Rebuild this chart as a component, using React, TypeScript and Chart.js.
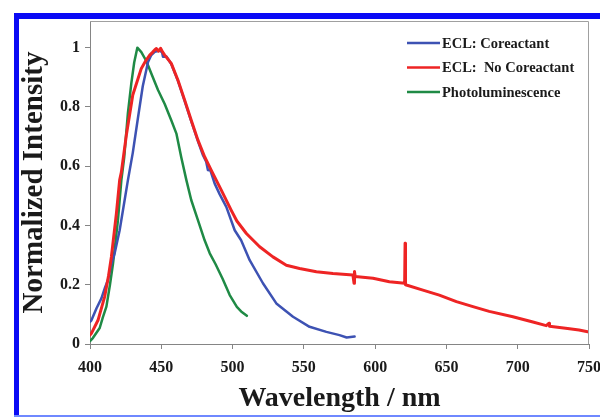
import { useEffect, useRef } from 'react';
import { Chart, registerables } from 'chart.js';

Chart.register(...registerables);

// ---- Data ----
const coreactantWavelength = [400, 401, 404.5, 408, 410.5, 412.6, 415, 417.3, 420.8, 424.3, 426.6, 430, 433.7, 437, 440.7, 443, 445.4, 449, 450.5, 451.2, 453.6, 455, 457, 461.7, 466.4, 471, 475.7, 479, 481.5, 482.7, 484.5, 487.4, 491, 495.6, 501.5, 506, 512, 521.3, 530.7, 542.4, 554, 565.8, 575, 580, 585.6];
const coreactantIntensity = [0.075, 0.08, 0.12, 0.154, 0.19, 0.216, 0.27, 0.306, 0.384, 0.486, 0.553, 0.645, 0.765, 0.87, 0.952, 0.975, 0.986, 0.99, 0.985, 0.969, 0.97, 0.96, 0.945, 0.888, 0.82, 0.752, 0.685, 0.64, 0.615, 0.587, 0.585, 0.542, 0.505, 0.463, 0.384, 0.35, 0.283, 0.205, 0.137, 0.092, 0.058, 0.041, 0.03, 0.022, 0.025];

const noCoreactantWavelength = [400, 401, 405.6, 410.3, 413, 415, 418.5, 420.8, 422, 425.5, 430, 436, 439, 441.9, 444, 445.5, 446.6, 448, 449.5, 451, 452.4, 457, 461.7, 466.4, 471, 475.7, 480.4, 485, 492, 499, 503, 509.7, 519, 528.3, 537.7, 547, 558.8, 570.4, 584.4, 585.2, 585.5, 586, 598.5, 610, 620.7, 621, 621.3, 633.5, 645, 657, 668.6, 680, 696.6, 710, 720, 722, 722.3, 735, 743, 750];
const noCoreactantIntensity = [0.03, 0.036, 0.08, 0.16, 0.23, 0.294, 0.44, 0.553, 0.58, 0.705, 0.84, 0.93, 0.955, 0.975, 0.985, 0.993, 0.997, 0.988, 0.998, 0.985, 0.975, 0.947, 0.89, 0.823, 0.755, 0.688, 0.632, 0.587, 0.52, 0.452, 0.415, 0.373, 0.328, 0.294, 0.266, 0.255, 0.244, 0.238, 0.233, 0.205, 0.245, 0.228, 0.222, 0.21, 0.205, 0.34, 0.2, 0.182, 0.165, 0.143, 0.126, 0.11, 0.092, 0.075, 0.062, 0.07, 0.06, 0.052, 0.047, 0.04];

const photoWavelength = [400, 402, 406.8, 409, 411.5, 414, 416.1, 418, 419.6, 422, 424, 426.6, 429, 431, 433.2, 436, 439.5, 443, 447.7, 452.4, 457, 460.6, 464, 467.6, 471, 475.7, 480.4, 484, 488, 493, 498, 503, 506, 510];
const photoIntensity = [0.01, 0.02, 0.054, 0.09, 0.126, 0.2, 0.27, 0.35, 0.418, 0.553, 0.63, 0.78, 0.88, 0.95, 1.0, 0.985, 0.955, 0.913, 0.857, 0.81, 0.755, 0.71, 0.63, 0.553, 0.486, 0.418, 0.35, 0.306, 0.27, 0.22, 0.165, 0.125, 0.11, 0.095];

const seriesLabels = ['ECL: Coreactant', 'ECL:  No Coreactant', 'Photoluminescence'];
const xTicks = [400, 450, 500, 550, 600, 650, 700, 750];
const yTicks = [0, 0.2, 0.4, 0.6, 0.8, 1];

const FONT = "'Liberation Serif', 'Times New Roman', serif";
const TEXT = '#1a1a1a';
const AXIS = '#858585';
const COLORS = ['#3d52b3', '#ee2424', '#1f8a45'];

const toPoints = (xs: number[], ys: number[]) => xs.map((x, i) => ({ x, y: ys[i] }));

const framePlugin = {
  id: 'plotFrame',
  afterDraw(chart: any) {
    const { ctx, chartArea } = chart;
    ctx.save();
    ctx.strokeStyle = '#a0a0a0';
    ctx.lineWidth = 1;
    ctx.beginPath();
    ctx.moveTo(chartArea.left, chartArea.top + 0.5);
    ctx.lineTo(chartArea.right - 0.5, chartArea.top + 0.5);
    ctx.lineTo(chartArea.right - 0.5, chartArea.bottom);
    ctx.stroke();
    ctx.restore();
  },
};

const legendPlugin = {
  id: 'insideLegend',
  afterDraw(chart: any) {
    const { ctx } = chart;
    ctx.save();
    chart.data.datasets.forEach((ds: any, i: number) => {
      const y = 43 + i * 24.5;
      ctx.strokeStyle = ds.borderColor;
      ctx.lineWidth = 2.5;
      ctx.beginPath();
      ctx.moveTo(407, y);
      ctx.lineTo(440, y);
      ctx.stroke();
      ctx.fillStyle = TEXT;
      ctx.font = `bold 14.5px ${FONT}`;
      ctx.textBaseline = 'middle';
      ctx.textAlign = 'left';
      ctx.fillText(ds.label, 442, y + 1);
    });
    ctx.restore();
  },
};

export default function App() {
  const canvasRef = useRef<HTMLCanvasElement | null>(null);

  useEffect(() => {
    if (!canvasRef.current) return;
    const common = { pointRadius: 0, borderJoinStyle: 'round', borderCapStyle: 'round' };
    const chart = new Chart(canvasRef.current, {
      type: 'line',
      data: {
        datasets: [
          {
            ...common,
            label: seriesLabels[0],
            data: toPoints(coreactantWavelength, coreactantIntensity),
            borderColor: COLORS[0],
            borderWidth: 2.5,
            order: 1,
          },
          {
            ...common,
            label: seriesLabels[1],
            data: toPoints(noCoreactantWavelength, noCoreactantIntensity),
            borderColor: COLORS[1],
            borderWidth: 3,
            order: 0,
          },
          {
            ...common,
            label: seriesLabels[2],
            data: toPoints(photoWavelength, photoIntensity),
            borderColor: COLORS[2],
            borderWidth: 2.5,
            order: 2,
          },
        ],
      },
      options: {
        animation: false,
        responsive: false,
        layout: { padding: 0 },
        plugins: { legend: { display: false }, tooltip: { enabled: false } },
        scales: {
          x: {
            type: 'linear',
            min: 400,
            max: 750,
            afterBuildTicks: (s: any) => {
              s.ticks = xTicks.map((value) => ({ value }));
            },
            afterFit: (s: any) => {
              s.height = 73;
              s.paddingLeft = 0;
              s.paddingRight = 11;
            },
            ticks: {
              color: TEXT,
              font: { family: FONT, size: 16, weight: 'bold' },
              padding: 9,
              autoSkip: false,
              maxRotation: 0,
              callback: (v: any) => String(v),
            },
            grid: { drawOnChartArea: false, drawTicks: true, tickLength: 5, color: AXIS },
            border: { color: AXIS, width: 1 },
            title: {
              display: true,
              text: 'Wavelength / nm',
              color: TEXT,
              font: { family: FONT, size: 28, weight: 'bold', lineHeight: 1 },
              padding: { top: 0, bottom: 4 },
            },
          },
          y: {
            type: 'linear',
            min: 0,
            max: 1.09,
            afterBuildTicks: (s: any) => {
              s.ticks = yTicks.map((value) => ({ value }));
            },
            afterFit: (s: any) => {
              s.width = 90;
              s.paddingTop = 21;
              s.paddingBottom = 0;
            },
            ticks: {
              color: TEXT,
              font: { family: FONT, size: 16, weight: 'bold' },
              padding: 5,
              callback: (v: any) => String(v),
            },
            grid: { drawOnChartArea: false, drawTicks: true, tickLength: 5, color: AXIS },
            border: { color: AXIS, width: 1 },
            title: {
              display: true,
              text: 'Normalized Intensity',
              color: TEXT,
              font: { family: FONT, size: 29, weight: 'bold', lineHeight: 1 },
              padding: { top: 20, bottom: 0 },
            },
          },
        },
      } as any,
      plugins: [framePlugin, legendPlugin],
    });
    return () => chart.destroy();
  }, []);

  return (
    <div style={{ position: 'fixed', left: 0, top: 0, width: 600, height: 417, background: '#ffffff', overflow: 'hidden' }}>
      <div style={{ position: 'absolute', left: 14, top: 13, width: 586, height: 6, background: '#0a0af5' }} />
      <div style={{ position: 'absolute', left: 14, top: 13, width: 5, height: 404, background: '#0a0af5' }} />
      <div style={{ position: 'absolute', left: 14, top: 415, width: 586, height: 2, background: '#6f88ff' }} />
      <canvas ref={canvasRef} width={600} height={417} style={{ position: 'absolute', left: 0, top: 0 }} />
    </div>
  );
}
